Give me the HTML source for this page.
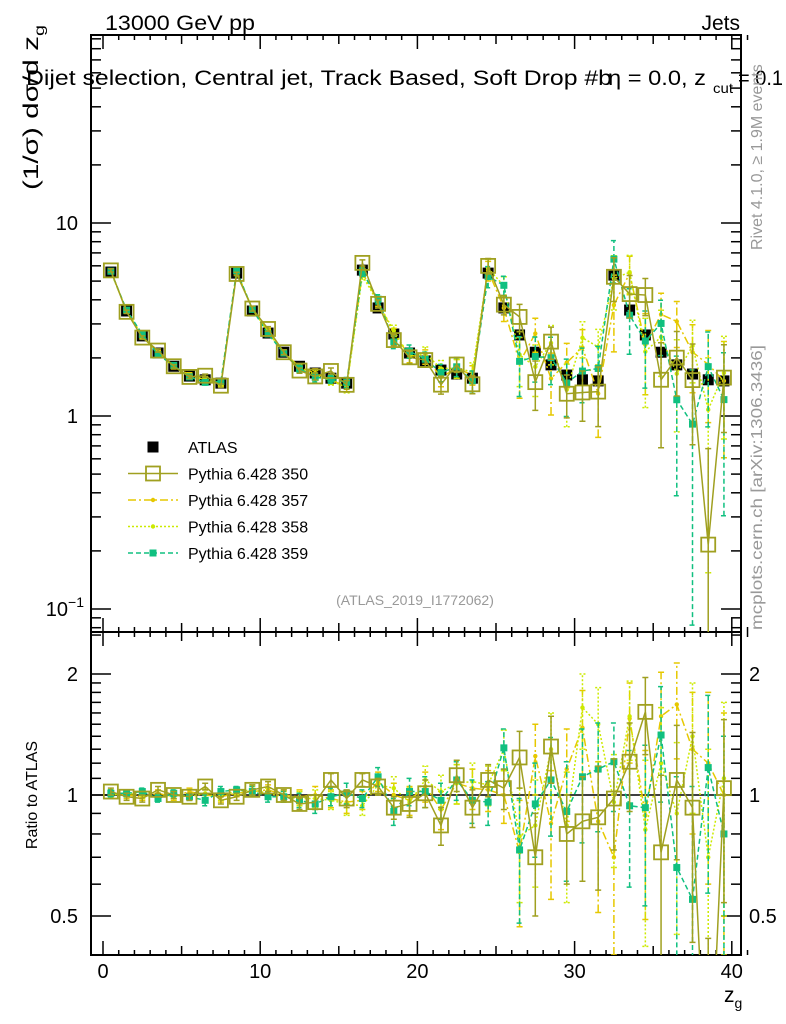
<!DOCTYPE html>
<html><head><meta charset="utf-8"><style>
html,body{margin:0;padding:0;background:#fff;overflow:hidden;width:786px;height:1024px;}
svg{display:block;font-family:"Liberation Sans",sans-serif;overflow:hidden;}
</style></head><body>
<svg id="chart" width="786" height="1024" viewBox="0 0 786 1024" xmlns="http://www.w3.org/2000/svg">
<text x="105" y="30" font-size="21" textLength="150" lengthAdjust="spacingAndGlyphs">13000 GeV pp</text>
<text x="740" y="30" font-size="21" text-anchor="end">Jets</text>
<text transform="translate(38,190) rotate(-90)" font-size="21" textLength="165" lengthAdjust="spacingAndGlyphs">(1/σ) dσ/d z<tspan font-size="14" dy="6">g</tspan></text>
<rect x="22" y="64" width="0" height="0" fill="#fff"/>
<text x="26" y="85" font-size="21" textLength="586" lengthAdjust="spacingAndGlyphs">Dijet selection, Central jet, Track Based, Soft Drop #b</text>
<text x="608" y="85" font-size="21" textLength="98" lengthAdjust="spacingAndGlyphs">η = 0.0, z</text>
<text x="713" y="93" font-size="14" textLength="20" lengthAdjust="spacingAndGlyphs">cut</text>
<text x="738" y="85" font-size="21" textLength="45" lengthAdjust="spacingAndGlyphs">= 0.1</text>
<text transform="translate(762,250) rotate(-90)" font-size="16" fill="#999">Rivet 4.1.0, ≥ 1.9M events</text>
<text transform="translate(762,630) rotate(-90)" font-size="16" fill="#999" textLength="285" lengthAdjust="spacingAndGlyphs">mcplots.cern.ch [arXiv:1306.3436]</text>
<text x="415" y="605" font-size="14" fill="#999" text-anchor="middle">(ATLAS_2019_I1772062)</text>
<text transform="translate(37,795) rotate(-90)" font-size="16" text-anchor="middle">Ratio to ATLAS</text>
<text x="724" y="1002" font-size="21">z<tspan font-size="14" dy="6">g</tspan></text>
<g id="axes"></g><g id="marks"></g><g id="legend"></g>
</svg>
<script>
const bins=[];for(let i=0;i<40;i++)bins.push(i+0.5);
const atlas=[5.57,3.5,2.6,2.12,1.81,1.61,1.54,1.48,5.5,3.5,2.69,2.14,1.81,1.67,1.57,1.48,5.7,3.63,2.66,2.12,1.93,1.73,1.65,1.57,5.5,3.63,2.63,2.14,1.84,1.63,1.54,1.52,5.37,3.54,2.63,2.14,1.84,1.65,1.54,1.52];
const atlasErr=[0.01,0.01,0.01,0.01,0.01,0.01,0.01,0.01,0.01,0.01,0.01,0.01,0.01,0.01,0.01,0.01,0.02,0.02,0.02,0.02,0.02,0.02,0.02,0.02,0.03,0.03,0.03,0.03,0.03,0.03,0.03,0.03,0.04,0.04,0.04,0.04,0.05,0.05,0.05,0.05];
const r350=[1.02,0.99,0.98,1.03,1.0,0.99,1.05,0.97,0.99,1.03,1.05,1.0,0.95,0.96,1.09,0.98,1.09,1.05,0.93,0.95,1.01,0.84,1.12,0.93,1.09,1.04,1.24,0.70,1.32,0.80,0.86,0.88,0.98,1.21,1.61,0.72,1.09,0.93,0.14,1.04];
const e350=[0.02,0.02,0.02,0.02,0.02,0.02,0.02,0.02,0.02,0.03,0.03,0.03,0.03,0.04,0.04,0.05,0.04,0.05,0.06,0.07,0.08,0.09,0.1,0.1,0.1,0.12,0.2,0.2,0.25,0.2,0.25,0.3,0.25,0.3,0.35,0.4,0.4,0.5,0.3,0.5];
const r357=[1.01,1.0,0.99,1.01,0.99,1.02,1.0,0.99,1.01,1.02,1.03,1.0,0.99,1.0,0.98,0.96,0.97,1.08,1.0,0.97,1.05,0.92,1.07,1.04,1.03,1.0,0.72,1.25,0.85,1.16,1.47,0.86,0.70,1.55,0.89,1.57,1.68,1.30,1.2,1.0];
const e357=[0.02,0.02,0.02,0.02,0.02,0.02,0.03,0.03,0.02,0.03,0.03,0.03,0.04,0.05,0.05,0.06,0.05,0.06,0.07,0.08,0.09,0.1,0.12,0.12,0.12,0.15,0.25,0.25,0.3,0.3,0.35,0.35,0.3,0.35,0.4,0.45,0.45,0.5,0.6,0.6];
const r358=[1.0,1.01,1.0,0.99,1.0,0.99,1.01,1.0,1.02,1.03,1.01,0.99,0.98,0.98,0.97,0.95,0.94,1.06,1.04,0.96,1.09,1.02,1.07,1.08,1.06,1.30,0.79,0.84,1.30,0.84,1.65,1.50,0.96,1.57,0.82,1.2,0.9,1.4,0.7,1.1];
const e358=[0.02,0.02,0.02,0.02,0.02,0.02,0.03,0.03,0.02,0.03,0.03,0.03,0.04,0.05,0.05,0.06,0.05,0.06,0.07,0.08,0.09,0.1,0.12,0.12,0.12,0.15,0.25,0.25,0.3,0.3,0.35,0.35,0.3,0.35,0.4,0.45,0.45,0.5,0.6,0.6];
const r359=[1.01,1.01,1.02,0.98,1.01,0.99,0.97,1.02,1.03,1.02,0.99,0.99,0.97,0.95,0.99,1.01,0.98,1.11,0.91,1.02,1.02,0.97,1.09,0.97,0.96,1.31,0.73,0.95,1.09,0.91,1.11,1.16,1.21,0.94,0.93,1.41,0.66,0.55,1.17,0.80];
const e359=[0.02,0.02,0.02,0.02,0.02,0.02,0.03,0.03,0.02,0.03,0.03,0.03,0.04,0.05,0.05,0.06,0.05,0.06,0.07,0.08,0.09,0.1,0.12,0.12,0.12,0.15,0.25,0.25,0.3,0.3,0.35,0.35,0.3,0.35,0.4,0.45,0.45,0.5,0.6,0.6];
const xTicks=[0,10,20,30,40];
const mainTicks=[10,1,0.1];
const ratioTicks=[2,1,0.5];

const NS="http://www.w3.org/2000/svg";
const L=91,R=741,MT=35,MB=632,RT=632,RB=955;
const X=v=>103+v*15.72;
const Y=v=>416-193*Math.log10(v);
const YR=v=>795-121*Math.log2(v);
function mk(tag,at,parent){const e=document.createElementNS(NS,tag);for(const k in at)e.setAttribute(k,at[k]);parent.appendChild(e);return e;}
const axes=document.getElementById('axes'),marks=document.getElementById('marks'),leg=document.getElementById('legend');

let f=mk('rect',{x:L,y:MT,width:R-L,height:MB-MT,fill:'none',stroke:'#000','stroke-width':2},axes);


f=mk('rect',{x:L,y:RT,width:R-L,height:RB-RT,fill:'none',stroke:'#000','stroke-width':2},axes);


for(let v=0;v<=41;v++){const len=v%10===0?14:(v%5===0?9:5);const x=X(v);
 for(const [yb,yt] of [[MB,MT],[RB,RT]]){
  let t=mk('line',{x1:x,x2:x,y1:yb,y2:yb-len,stroke:'#000','stroke-width':1.5},axes);
  
  
  t=mk('line',{x1:x,x2:x,y1:yt,y2:yt+len,stroke:'#000','stroke-width':1.5},axes);
  
  }}
xTicks.forEach(v=>{const t=mk('text',{x:X(v),y:978,'font-size':20,'text-anchor':'middle'},axes);t.textContent=v;
 
 });
for(let d=-2;d<=2;d++)for(let m=1;m<10;m++){const v=m*Math.pow(10,d);const y=Y(v);if(y<MT||y>MB)continue;const len=m===1?20:10;
 for(const [x0,s] of [[L,1],[R,-1]]){const t=mk('line',{x1:x0,x2:x0+s*len,y1:y,y2:y,stroke:'#000','stroke-width':1.5},axes);
  
  }}
mainTicks.forEach(v=>{const t=mk('text',{x:78,y:Y(v)+7,'font-size':20,'text-anchor':'end'},axes);
 if(v===0.1){t.textContent='10';const s=mk('tspan',{'font-size':14,dy:-9},t);s.textContent='−1';t.setAttribute('x',84);}else t.textContent=v;
 
 });
[0.4,0.5,0.6,0.7,0.8,0.9,1,1.1,1.2,1.3,1.4,1.5,1.6,1.7,1.8,1.9,2,2.5].forEach(v=>{const y=YR(v);if(y<RT||y>RB)return;const len=(v===0.5||v===1||v===2)?20:10;
 for(const [x0,s] of [[L,1],[R,-1]]){const t=mk('line',{x1:x0,x2:x0+s*len,y1:y,y2:y,stroke:'#000','stroke-width':1.5},axes);
  
  }});
ratioTicks.forEach(v=>{for(const [x,a] of [[78,'end'],[749,'start']]){const t=mk('text',{x:x,y:YR(v)+7,'font-size':20,'text-anchor':a},axes);t.textContent=v;
 
 }});
let one=mk('line',{x1:L,x2:R,y1:YR(1),y2:YR(1),stroke:'#000','stroke-width':1.5},axes);



const defs=mk('defs',{},marks);
const c1=mk('clipPath',{id:'cm'},defs);mk('rect',{x:L,y:MT,width:R-L,height:MB-MT},c1);
const c2=mk('clipPath',{id:'cr'},defs);mk('rect',{x:L,y:RT,width:R-L,height:RB-RT},c2);
const gm=mk('g',{'clip-path':'url(#cm)'},marks),gr=mk('g',{'clip-path':'url(#cr)'},marks);

function marker(g,x,y,st,name){let e;
 if(st.m==='open'){e=mk('rect',{x:x-7,y:y-7,width:14,height:14,fill:'none',stroke:st.c,'stroke-width':1.8},g);}
 else if(st.m==='sq'){e=mk('rect',{x:x-st.s/2,y:y-st.s/2,width:st.s,height:st.s,fill:st.c},g);}
 else {e=mk('circle',{cx:x,cy:y,r:2.2,fill:st.c},g);}
 
 }
function series(g,vals,errs,yf,st,name,lines){
 if(lines){const p=vals.map((v,i)=>X(bins[i])+','+yf(Math.max(v,1e-3))).join(' ');
  const pl=mk('polyline',{points:p,fill:'none',stroke:st.c,'stroke-width':1.5,'stroke-dasharray':st.d||''},g);
  
  }
 vals.forEach((v,i)=>{const x=X(bins[i]);const lo=Math.max(v-errs[i],1e-3),hi=v+errs[i];
  const eb=mk('path',{d:`M${x},${yf(lo)}V${yf(hi)}M${x-3},${yf(lo)}h6M${x-3},${yf(hi)}h6`,stroke:st.c,'stroke-width':1.5,fill:'none','stroke-dasharray':st.d||''},g);
  
  
  marker(g,x,yf(Math.max(v,1e-3)),st,name+'-point');});}
const S={a:{c:'#000',m:'sq',s:11},p350:{c:'#a0a020',m:'open'},p357:{c:'#e6c800',m:'dot',d:'8,3,2,3'},p358:{c:'#ccea00',m:'dot',d:'2,2'},p359:{c:'#10c080',m:'sq',s:7,d:'5,3'}};
const models=[[r357,e357,S.p357,'pythia-357'],[r358,e358,S.p358,'pythia-358'],[r359,e359,S.p359,'pythia-359'],[r350,e350,S.p350,'pythia-350']];
series(gm,atlas,atlas.map((v,i)=>v*atlasErr[i]),Y,S.a,'atlas',false);
models.forEach(([r,e,st,n])=>series(gm,r.map((v,i)=>v*atlas[i]),e.map((v,i)=>v*atlas[i]),Y,st,n,true));
models.forEach(([r,e,st,n])=>series(gr,r,e,YR,st,n+'-ratio',true));

const items=[['ATLAS',S.a,false],['Pythia 6.428 350',S.p350,true],['Pythia 6.428 357',S.p357,true],['Pythia 6.428 358',S.p358,true],['Pythia 6.428 359',S.p359,true]];
items.forEach(([lab,st,ln],i)=>{const y=447+i*26.5;const g=mk('g',{},leg);
 
 
 if(ln)mk('line',{x1:128,x2:178,y1:y,y2:y,stroke:st.c,'stroke-width':1.5,'stroke-dasharray':st.d||''},g);
 marker(g,153,y,st,'legend-marker');
 const t=mk('text',{x:188,y:y+6,'font-size':16},g);t.textContent=lab;});
</script>
</body></html>
